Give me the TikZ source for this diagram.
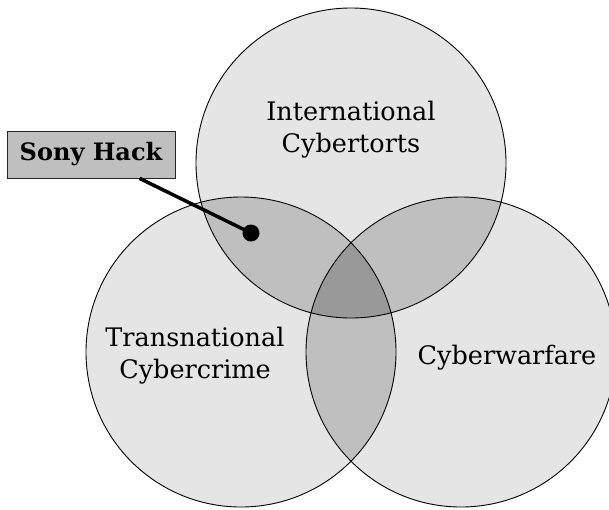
\documentclass[tikz,border=0pt]{standalone}
\usepackage{fontspec}
\setmainfont{DejaVu Serif}
\begin{document}
\begin{tikzpicture}[x=1pt,y=-1pt,
  ring/.style={circle, minimum size=310pt, inner sep=0pt, draw=black, line width=0.9pt},
  single/.style={fill=black!10},
  double/.style={fill=black!25},
  triple/.style={fill=black!40},
  setlabel/.style={font=\fontsize{25.5}{32}\selectfont, align=center, text=black, inner sep=0pt},
  tagbox/.style={draw=black!85, line width=0.8pt, fill=black!25, minimum width=168pt, minimum height=47pt, inner sep=0pt, font=\bfseries\fontsize{24}{28}\selectfont},
  pin/.style={circle, fill=black, minimum size=17pt, inner sep=0pt},
  leader/.style={line width=3.5pt, black}
]
\clip (0,0) rectangle (609,509);
\fill[white] (0,0) rectangle (609,509);
\coordinate (T) at (351,163);
\coordinate (L) at (241,352);
\coordinate (R) at (461,352);
% single regions
\fill[single] (T) circle[radius=155pt];
\fill[single] (L) circle[radius=155pt];
\fill[single] (R) circle[radius=155pt];
% pairwise overlaps
\begin{scope}
  \clip (T) circle[radius=155pt];
  \fill[double] (L) circle[radius=155pt];
  \fill[double] (R) circle[radius=155pt];
\end{scope}
\begin{scope}
  \clip (L) circle[radius=155pt];
  \fill[double] (R) circle[radius=155pt];
\end{scope}
% triple overlap
\begin{scope}
  \clip (T) circle[radius=155pt];
  \clip (L) circle[radius=155pt];
  \fill[triple] (R) circle[radius=155pt];
\end{scope}
% outlines
\node[ring] (top) at (T) {};
\node[ring] (left) at (L) {};
\node[ring] (right) at (R) {};
% labels
\node[setlabel, anchor=base] (toplabel) at (351,152) {International\\Cybertorts};
\node[setlabel, anchor=base] (leftlabel) at (195,378) {Transnational\\Cybercrime};
\node[setlabel, anchor=base] (rightlabel) at (507,364) {Cyberwarfare};
% callout
\node[tagbox] (sony) at (91,154.5) {Sony Hack};
\node[pin] (dot) at (251,233) {};
\draw[leader] (sony) -- (dot.center);
\end{tikzpicture}
\end{document}
